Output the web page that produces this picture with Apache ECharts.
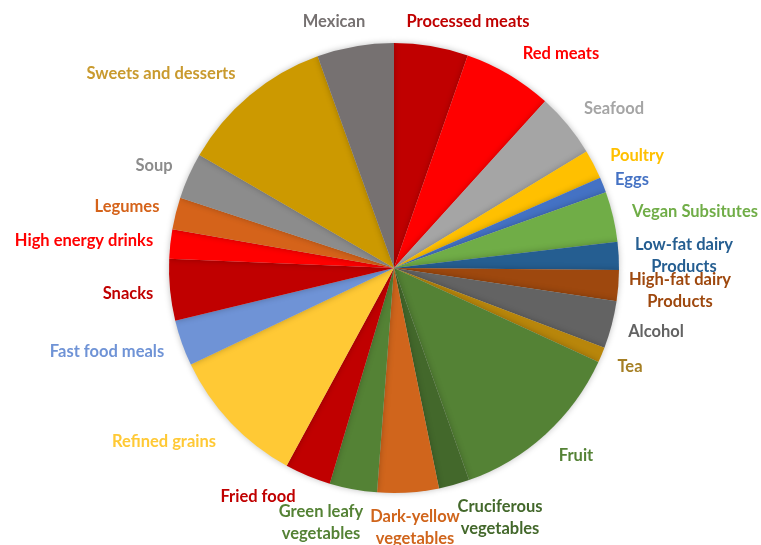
<!DOCTYPE html>
<html>
<head>
<meta charset="utf-8">
<script src="https://cdn.jsdelivr.net/npm/echarts@6/dist/echarts.min.js"></script>
<style>html,body{margin:0;padding:0;background:#fff}#c{width:761px;height:545px}</style>
</head>
<body>
<div id="c"></div>
<script>
const categories = ["Processed meats","Red meats","Seafood","Poultry","Eggs","Vegan Subsitutes","Low-fat dairy\nProducts","High-fat dairy\nProducts","Alcohol","Tea","Fruit","Cruciferous\nvegetables","Dark-yellow\nvegetables","Green leafy\nvegetables","Fried food","Refined grains","Fast food meals","Snacks","High energy drinks","Legumes","Soup","Sweets and desserts","Mexican"];
const values = [5.3,6.4,4.6,2.1,1.1,3.6,2.0,2.2,3.4,1.1,12.7,2.2,4.4,3.4,3.3,10.0,3.3,4.4,2.1,2.3,3.3,11.1,5.5];
const sliceColors = ["#C00000","#FF0000","#A5A5A5","#FFC000","#4472C4","#70AD47","#255E91","#9E480E","#636363","#B8860B","#548235","#43682B","#D0651C","#548235","#C00000","#FFC935","#6F93D6","#C00000","#FF0000","#D5631A","#8C8C8C","#CC9900","#767171"];
const labelColors = ["#C00000","#FF0000","#A5A5A5","#FFC000","#4472C4","#70AD47","#255E91","#9E480E","#636363","#A57F24","#548235","#43682B","#D0651C","#548235","#C00000","#FFC935","#6F93D6","#C00000","#FF0000","#D5631A","#8C8C8C","#C99A2E","#767171"];
const labelPos = [[468,22],[561,54],[614,109],[637,156],[632,180],[695,212],[684,256],[680,291],[656,332],[630,367],[576,456],[500,518],[415,528],[321,523],[258,497],[164,442],[107,352],[128,294],[84,241],[127,207],[154,166],[161,74],[334,22]];

const chart = echarts.init(document.getElementById('c'), null, {renderer:'canvas'});
chart.setOption({
  animation:false,
  series:[{
    type:'pie',
    center:[394,268],
    radius:225,
    startAngle:90,
    clockwise:true,
    avoidLabelOverlap:false,
    itemStyle:{borderWidth:0, shadowBlur:6, shadowColor:'rgba(0,0,0,0.25)'},
    label:{show:true, position:'outside', fontFamily:'Lato', fontWeight:'bold', fontSize:16.5, lineHeight:22, align:'center'},
    labelLine:{show:false},
    labelLayout:function(p){
      const q = labelPos[p.dataIndex];
      return {x:q[0], y:q[1], align:'center', verticalAlign:'middle', hideOverlap:false, moveOverlap:null};
    },
    data: categories.map((n,i)=>({name:n, value:values[i], itemStyle:{color:sliceColors[i]}, label:{color:labelColors[i]}}))
  }]
});
</script>
</body>
</html>
